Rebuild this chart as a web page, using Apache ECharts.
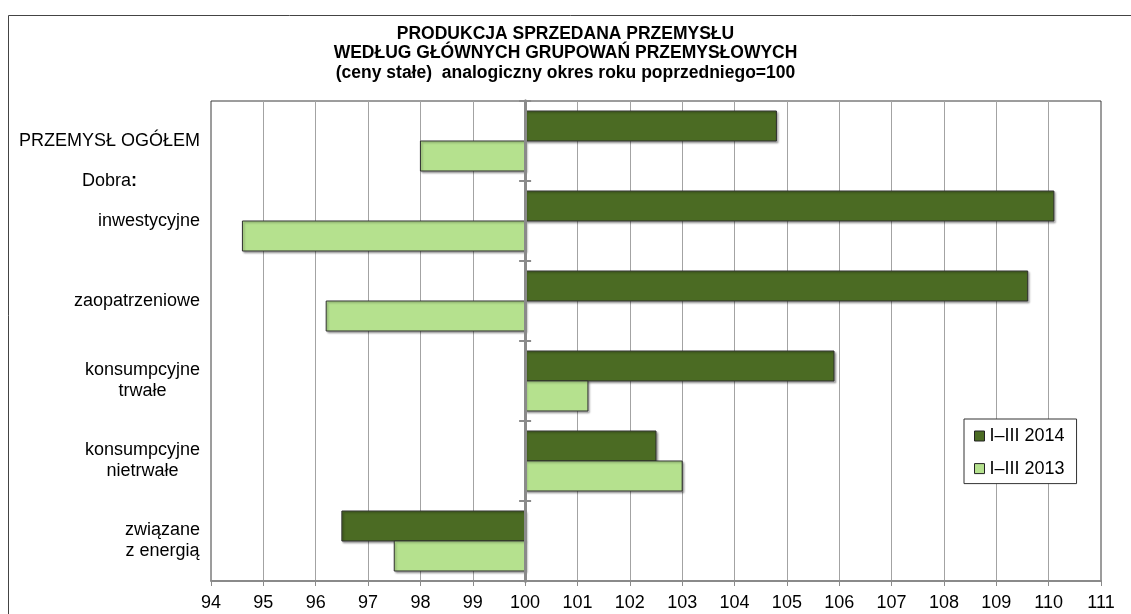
<!DOCTYPE html>
<html>
<head>
<meta charset="utf-8">
<script src="https://cdn.jsdelivr.net/npm/echarts@6/dist/echarts.min.js"></script>
<style>
  html, body { margin: 0; padding: 0; background: #fff; }
  #chart { width: 1131px; height: 614px; }
</style>
</head>
<body>
<div id="chart"></div>
<script>
var categories = ['PRZEMYSŁ OGÓŁEM', 'inwestycyjne', 'zaopatrzeniowe', 'konsumpcyjne\ntrwałe', 'konsumpcyjne\nnietrwałe', 'związane\nz energią'];
var values2014 = [104.8, 110.1, 109.6, 105.9, 102.5, 96.5];
var values2013 = [98.0, 94.6, 96.2, 101.2, 103.0, 97.5];
var seriesNames = ['I–III 2014', 'I–III 2013'];
var xMin = 94, xMax = 111, base = 100;

var FONT = '"Liberation Sans", Arial, sans-serif';
var darkGreen = '#4b6b23', lightGreen = '#b5e18e';

var chart = echarts.init(document.getElementById('chart'));

// bars start at 100, so draw them as custom rects from 100 to the value
function barRenderer(color, upper) {
    return function (params, api) {
        var cat = api.value(0);
        var a = api.coord([base, cat]);
        var b = api.coord([api.value(1), cat]);
        var h = api.size([0, 1])[1] * 0.375;
        return {
            type: 'rect',
            shape: {
                x: Math.min(a[0], b[0]),
                y: upper ? a[1] - h : a[1],
                width: Math.abs(b[0] - a[0]),
                height: h
            },
            style: {
                fill: color,
                stroke: '#2e2e2e',
                lineWidth: 1,
                shadowBlur: 2,
                shadowOffsetX: 1.5,
                shadowOffsetY: 1.5,
                shadowColor: 'rgba(0,0,0,0.3)'
            }
        };
    };
}

function labelFormatter(value, idx) {
    if (idx === 0) {
        return '{s| }\n{c|' + value + '}\n{d|Dobra}{db|:}';
    }
    return value.split('\n').map(function (l) { return '{c|' + l + '}'; }).join('\n');
}

function centerAxis(tickInside) {
    return {
        type: 'category',
        inverse: true,
        data: categories,
        position: 'left',
        offset: 0,
        z: 5,
        axisLine: { show: true, lineStyle: { color: '#8a8a8a', width: 3 } },
        axisTick: { show: true, inside: tickInside, length: 6, lineStyle: { color: '#8a8a8a', width: 2 } },
        axisLabel: { show: false },
        splitLine: { show: false }
    };
}

var option = {
    backgroundColor: '#fff',
    animation: false,
    title: {
        text: 'PRODUKCJA SPRZEDANA PRZEMYSŁU\nWEDŁUG GŁÓWNYCH GRUPOWAŃ PRZEMYSŁOWYCH\n(ceny stałe)  analogiczny okres roku poprzedniego=100',
        left: 'center',
        top: 24,
        padding: 0,
        textStyle: { fontFamily: FONT, fontSize: 17.5, fontWeight: 'bold', color: '#000', lineHeight: 19.7 }
    },
    legend: {
        orient: 'vertical',
        left: 964,
        top: 419,
        padding: [7, 12, 5, 10],
        itemGap: 12.6,
        itemWidth: 10,
        itemHeight: 10,
        backgroundColor: '#fff',
        borderColor: '#333',
        borderWidth: 1,
        textStyle: { fontFamily: FONT, fontSize: 18, color: '#000', lineHeight: 20 },
        data: [
            { name: seriesNames[0], icon: 'rect', itemStyle: { color: darkGreen, borderColor: '#222', borderWidth: 1 } },
            { name: seriesNames[1], icon: 'rect', itemStyle: { color: lightGreen, borderColor: '#222', borderWidth: 1 } }
        ]
    },
    graphic: [{
        type: 'rect',
        silent: true,
        z: -10,
        shape: { x: 8.5, y: 15.5, width: 1200, height: 700 },
        style: { fill: null, stroke: '#444', lineWidth: 1 }
    }],
    grid: {
        left: 211,
        right: 30,
        top: 101,
        bottom: 33,
        show: true,
        backgroundColor: 'transparent',
        borderColor: '#3a3a3a',
        borderWidth: 1
    },
    xAxis: {
        type: 'value',
        min: xMin,
        max: xMax,
        interval: 1,
        axisLine: { show: true, lineStyle: { color: '#8a8a8a', width: 2 } },
        axisTick: { show: true, length: 5, lineStyle: { color: '#8a8a8a', width: 1 } },
        axisLabel: { fontFamily: FONT, fontSize: 18, color: '#000', margin: 13 },
        splitLine: { show: true, showMinLine: false, showMaxLine: false, lineStyle: { color: '#a3a3a3', width: 1 } }
    },
    yAxis: [{
        type: 'category',
        inverse: true,
        data: categories,
        position: 'left',
        axisLine: { show: false },
        axisTick: { show: false },
        splitLine: { show: false },
        axisLabel: {
            margin: 11,
            color: '#000',
            fontFamily: FONT,
            fontSize: 18,
            formatter: labelFormatter,
            rich: {
                s: { fontFamily: FONT, fontSize: 18, lineHeight: 60, align: 'center' },
                c: { fontFamily: FONT, fontSize: 18, lineHeight: 21, color: '#000', align: 'center' },
                d: { fontFamily: FONT, fontSize: 18, lineHeight: 60, color: '#000', align: 'center' },
                db: { fontFamily: FONT, fontSize: 18, fontWeight: 'bold', lineHeight: 60, color: '#000', align: 'center' }
            }
        }
    }, centerAxis(false), centerAxis(true)],
    series: [{
        name: seriesNames[0],
        type: 'custom',
        itemStyle: { color: darkGreen },
        encode: { x: 1, y: 0 },
        renderItem: barRenderer(darkGreen, true),
        data: values2014.map(function (v, i) { return [i, v]; })
    }, {
        name: seriesNames[1],
        type: 'custom',
        itemStyle: { color: lightGreen },
        encode: { x: 1, y: 0 },
        renderItem: barRenderer(lightGreen, false),
        data: values2013.map(function (v, i) { return [i, v]; })
    }]
};

chart.setOption(option);

// move the middle axis onto the value 100
var gridRect = chart.getModel().getComponent('grid').coordinateSystem.getRect();
var baseX = chart.convertToPixel({ xAxisIndex: 0 }, base);
var off = -(baseX - gridRect.x);
chart.setOption({ yAxis: [{}, { offset: off }, { offset: off }] });
</script>
</body>
</html>
